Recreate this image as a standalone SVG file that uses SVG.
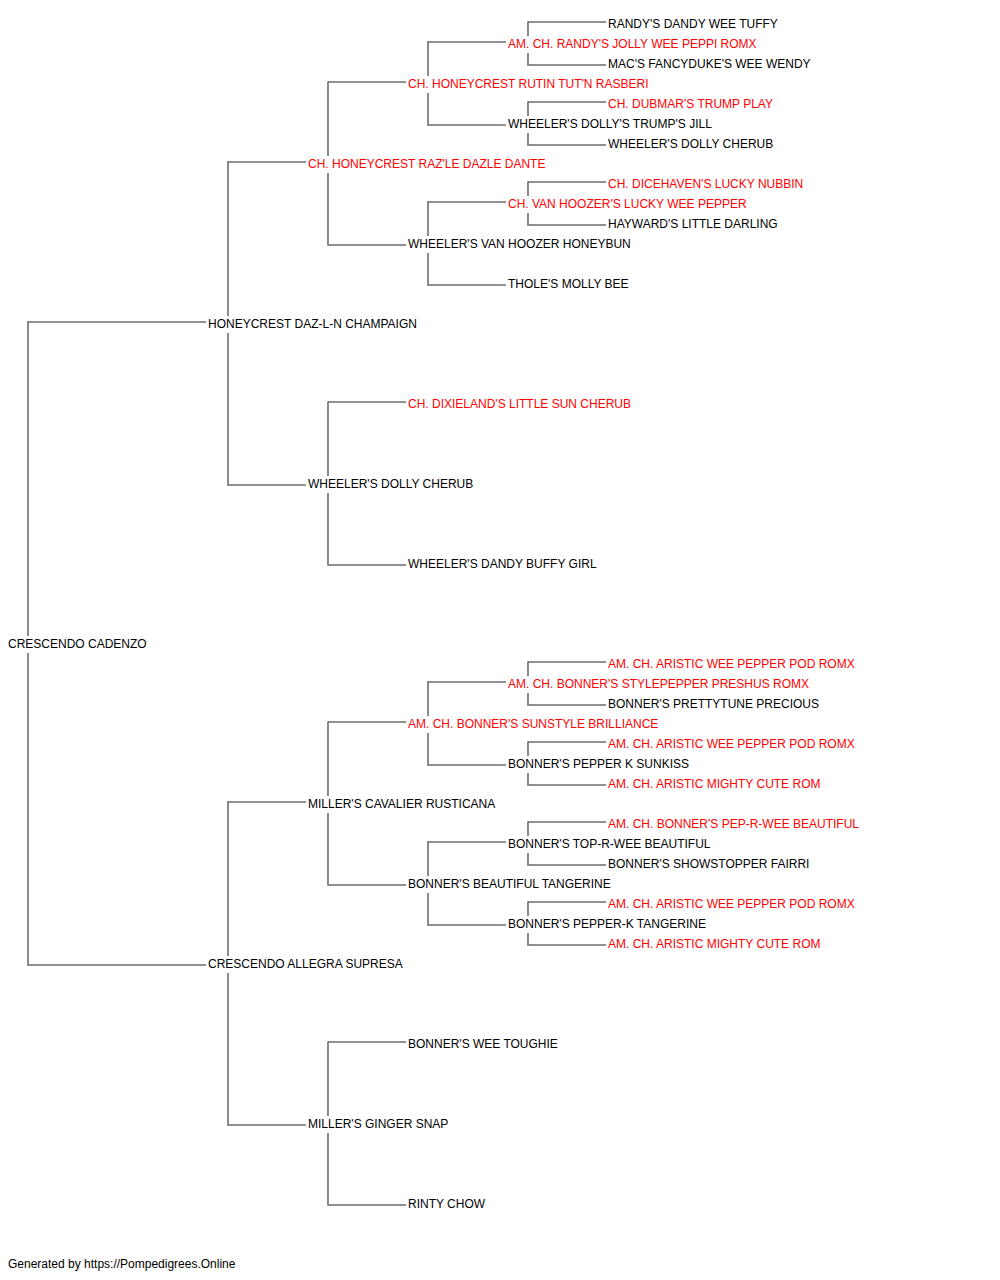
<svg xmlns="http://www.w3.org/2000/svg" width="1000" height="1280" viewBox="0 0 1000 1280">
<style>
text{font-family:"Liberation Sans",Arial,sans-serif;font-size:12px;fill:#000}
text.ch{fill:#ff0000}
.c path{fill:none;stroke:#6e6e6e;stroke-width:1.6}
</style>
<rect width="1000" height="1280" fill="#fff"/>
<g id="connectors" class="c">
<path d="M28,636V322H206M28,653V965H206"/>
<path d="M228,316V162H306M228,333V485H306"/>
<path d="M328,156V82H406M328,173V245H406"/>
<path d="M428,76V42H506M428,93V125H506"/>
<path d="M528,36V22H606M528,53V65H606"/>
<path d="M528,116V102H606M528,133V145H606"/>
<path d="M428,236V202H506M428,253V285H506"/>
<path d="M528,196V182H606M528,213V225H606"/>
<path d="M328,476V402H406M328,493V565H406"/>
<path d="M228,956V802H306M228,973V1125H306"/>
<path d="M328,796V722H406M328,813V885H406"/>
<path d="M428,716V682H506M428,733V765H506"/>
<path d="M528,676V662H606M528,693V705H606"/>
<path d="M528,756V742H606M528,773V785H606"/>
<path d="M428,876V842H506M428,893V925H506"/>
<path d="M528,836V822H606M528,853V865H606"/>
<path d="M528,916V902H606M528,933V945H606"/>
<path d="M328,1116V1042H406M328,1133V1205H406"/>
</g>
<g id="n0"><text x="8" y="648">CRESCENDO CADENZO</text></g>
<g id="n1"><text x="208" y="328">HONEYCREST DAZ-L-N CHAMPAIGN</text></g>
<g id="n2"><text x="208" y="968">CRESCENDO ALLEGRA SUPRESA</text></g>
<g id="n3"><text class="ch" x="308" y="168">CH. HONEYCREST RAZ'LE DAZLE DANTE</text></g>
<g id="n4"><text x="308" y="488">WHEELER'S DOLLY CHERUB</text></g>
<g id="n5"><text x="308" y="808">MILLER'S CAVALIER RUSTICANA</text></g>
<g id="n6"><text x="308" y="1128">MILLER'S GINGER SNAP</text></g>
<g id="n7"><text class="ch" x="408" y="88">CH. HONEYCREST RUTIN TUT'N RASBERI</text></g>
<g id="n8"><text x="408" y="248">WHEELER'S VAN HOOZER HONEYBUN</text></g>
<g id="n9"><text class="ch" x="408" y="408">CH. DIXIELAND'S LITTLE SUN CHERUB</text></g>
<g id="n10"><text x="408" y="568">WHEELER'S DANDY BUFFY GIRL</text></g>
<g id="n11"><text class="ch" x="408" y="728">AM. CH. BONNER'S SUNSTYLE BRILLIANCE</text></g>
<g id="n12"><text x="408" y="888">BONNER'S BEAUTIFUL TANGERINE</text></g>
<g id="n13"><text x="408" y="1048">BONNER'S WEE TOUGHIE</text></g>
<g id="n14"><text x="408" y="1208">RINTY CHOW</text></g>
<g id="n15"><text class="ch" x="508" y="48">AM. CH. RANDY'S JOLLY WEE PEPPI ROMX</text></g>
<g id="n16"><text x="508" y="128">WHEELER'S DOLLY'S TRUMP'S JILL</text></g>
<g id="n17"><text class="ch" x="508" y="208">CH. VAN HOOZER'S LUCKY WEE PEPPER</text></g>
<g id="n18"><text x="508" y="288">THOLE'S MOLLY BEE</text></g>
<g id="n19"><text class="ch" x="508" y="688">AM. CH. BONNER'S STYLEPEPPER PRESHUS ROMX</text></g>
<g id="n20"><text x="508" y="768">BONNER'S PEPPER K SUNKISS</text></g>
<g id="n21"><text x="508" y="848">BONNER'S TOP-R-WEE BEAUTIFUL</text></g>
<g id="n22"><text x="508" y="928">BONNER'S PEPPER-K TANGERINE</text></g>
<g id="n23"><text x="608" y="28">RANDY'S DANDY WEE TUFFY</text></g>
<g id="n24"><text x="608" y="68">MAC'S FANCYDUKE'S WEE WENDY</text></g>
<g id="n25"><text class="ch" x="608" y="108">CH. DUBMAR'S TRUMP PLAY</text></g>
<g id="n26"><text x="608" y="148">WHEELER'S DOLLY CHERUB</text></g>
<g id="n27"><text class="ch" x="608" y="188">CH. DICEHAVEN'S LUCKY NUBBIN</text></g>
<g id="n28"><text x="608" y="228">HAYWARD'S LITTLE DARLING</text></g>
<g id="n29"><text class="ch" x="608" y="668">AM. CH. ARISTIC WEE PEPPER POD ROMX</text></g>
<g id="n30"><text x="608" y="708">BONNER'S PRETTYTUNE PRECIOUS</text></g>
<g id="n31"><text class="ch" x="608" y="748">AM. CH. ARISTIC WEE PEPPER POD ROMX</text></g>
<g id="n32"><text class="ch" x="608" y="788">AM. CH. ARISTIC MIGHTY CUTE ROM</text></g>
<g id="n33"><text class="ch" x="608" y="828">AM. CH. BONNER'S PEP-R-WEE BEAUTIFUL</text></g>
<g id="n34"><text x="608" y="868">BONNER'S SHOWSTOPPER FAIRRI</text></g>
<g id="n35"><text class="ch" x="608" y="908">AM. CH. ARISTIC WEE PEPPER POD ROMX</text></g>
<g id="n36"><text class="ch" x="608" y="948">AM. CH. ARISTIC MIGHTY CUTE ROM</text></g>
<g id="footer"><text x="8" y="1268">Generated by https://Pompedigrees.Online</text></g>
</svg>
